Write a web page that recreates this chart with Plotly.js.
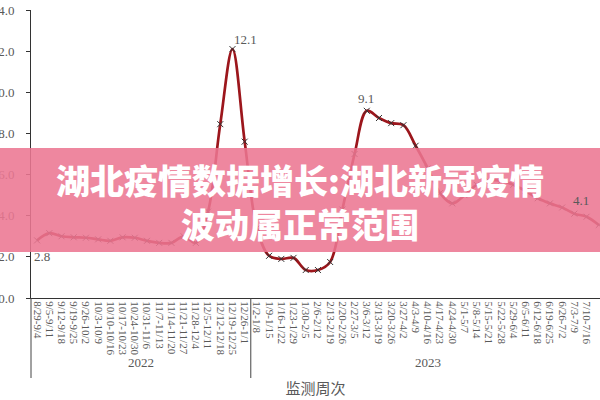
<!DOCTYPE html>
<html>
<head>
<meta charset="utf-8">
<script src="https://cdn.plot.ly/plotly-3.0.1.min.js"></script>
<style>
  html, body { margin: 0; padding: 0; background: #fff; }
  #chart { width: 600px; height: 400px; }
</style>
</head>
<body>
<div id="chart"></div>
<script>
// weekly categories, grouped by year
var weeks2022 = ["8/29-9/4", "9/5-9/11", "9/12-9/18", "9/19-9/25", "9/26-10/2",
    "10/3-10/9", "10/10-10/16", "10/17-10/23", "10/24-10/30", "10/31-11/6",
    "11/7-11/13", "11/14-11/20", "11/21-11/27", "11/28-12/4", "12/5-12/11",
    "12/12-12/18", "12/19-12/25", "12/26-1/1"];
var weeks2023 = ["1/2-1/8", "1/9-1/15", "1/16-1/22", "1/23-1/29", "1/30-2/5",
    "2/6-2/12", "2/13-2/19", "2/20-2/26", "2/27-3/5", "3/6-3/12", "3/13-3/19",
    "3/20-3/26", "3/27-4/2", "4/3-4/9", "4/10-4/16", "4/17-4/23", "4/24-4/30",
    "5/1-5/7", "5/8-5/14", "5/15-5/21", "5/22-5/28", "5/29-6/4", "6/5-6/11",
    "6/12-6/18", "6/19-6/25", "6/26-7/2", "7/3-7/9", "7/10-7/16", "7/17-7/23"];
var years = ["2022", "2023"];

// values (%)
var values2022 = [2.8, 3.15, 3.0, 2.95, 2.93, 2.85, 2.78, 2.95, 2.93, 2.78,
    2.68, 2.68, 3.0, 2.68, 4.2, 8.45, 12.1, 7.6];
var values2023 = [3.4, 2.05, 1.9, 1.95, 1.36, 1.36, 1.75, 4.3, 7.0, 9.1,
    8.75, 8.5, 8.4, 7.4, 6.3, 5.1, 4.6, 5.0, 5.5, 5.7, 5.7, 5.5, 5.2, 4.85,
    4.6, 4.4, 4.1, 3.95, 3.55];

// which points carry a value label
var labelled = [0, 16, 27, 44];

var yTicks = [0, 2, 4, 6, 8, 10, 12, 14];

var bannerLines = ["湖北疫情数据增长:湖北新冠疫情", "波动属正常范围"];
var axisTitle = "监测周次";

var weeks = weeks2022.concat(weeks2023);
var values = values2022.concat(values2023);
var idx = weeks.map(function(w, i) { return i; });

// label offsets from their point, in px
var labelShift = [[5, -16], [13, 10], [-1, 12], [7, 13]];

// plot box in pixels
var L = 31, T = 10, PW = 569, PH = 288;
function px2x(px) { return (px - L) / PW; }
function px2y(py) { return (T + PH - py) / PH; }

var grey = "#595959";
var serif = "Liberation Serif, Times New Roman, serif";
var cjk = "Noto Sans CJK SC, sans-serif";

var trace = {
    x: idx,
    y: values,
    type: "scatter",
    mode: "lines+markers",
    line: { color: "#9c161c", width: 2.7, shape: "spline", smoothing: 1 },
    marker: { symbol: "x-thin", size: 6, color: "#333", line: { color: "#333", width: 1 } },
    hoverinfo: "x+y"
};

var n22 = weeks2022.length;
var groups = [
    { label: years[0], from: 0, to: n22 - 1 },
    { label: years[1], from: n22, to: weeks.length - 1 }
];

var annotations = groups.map(function(g) {
    return {
        xref: "x", yref: "paper",
        x: (g.from + g.to) / 2, y: px2y(372),
        text: g.label, showarrow: false,
        font: { family: serif, size: 13, color: grey }
    };
});
labelled.forEach(function(i, k) {
    annotations.push({
        xref: "x", yref: "y",
        x: i, y: values[i],
        xshift: labelShift[k][0], yshift: labelShift[k][1],
        text: values[i].toFixed(1), showarrow: false,
        font: { family: serif, size: 13, color: grey }
    });
});
annotations.push({
    xref: "paper", yref: "paper",
    x: px2x(300), y: px2y(201),
    xanchor: "center", yanchor: "middle",
    text: bannerLines.join("<br>"), showarrow: false,
    font: { family: cjk, size: 34, color: "#ffffff", weight: 900 }
});

var shapes = [
    // group dividers under the axis
    { type: "line", xref: "paper", yref: "paper", x0: 0, x1: 0,
      y0: 0, y1: px2y(378), line: { color: "#444", width: 1 } },
    { type: "line", xref: "x", yref: "paper", x0: n22 - 0.5, x1: n22 - 0.5,
      y0: 0, y1: px2y(378), line: { color: "#444", width: 1 } },
    // pink banner
    { type: "rect", xref: "paper", yref: "paper", layer: "above",
      x0: px2x(0), x1: px2x(600), y0: px2y(252), y1: px2y(148),
      fillcolor: "rgba(236,118,146,0.88)", line: { width: 0 } }
];

var layout = {
    width: 600,
    height: 400,
    margin: { l: L, r: 600 - L - PW, t: T, b: 400 - T - PH },
    paper_bgcolor: "#fff",
    plot_bgcolor: "#fff",
    showlegend: false,
    xaxis: {
        range: [-0.5, 46.1],
        tickmode: "array",
        tickvals: idx,
        ticktext: weeks,
        tickangle: 90,
        tickfont: { family: serif, size: 11, color: grey },
        showgrid: false,
        zeroline: false,
        showline: true,
        linecolor: "#333",
        linewidth: 1,
        ticks: "",
        title: { text: axisTitle, font: { family: cjk, size: 15, color: grey }, standoff: 29 }
    },
    yaxis: {
        range: [0, 14],
        tickmode: "array",
        tickvals: yTicks,
        tickformat: ".1f",
        tickfont: { family: serif, size: 13, color: grey },
        ticks: "outside",
        ticklen: 4,
        tickcolor: "#333",
        ticklabelstandoff: 9,
        showgrid: false,
        zeroline: false,
        showline: true,
        linecolor: "#333",
        linewidth: 1
    },
    shapes: shapes,
    annotations: annotations
};

Plotly.newPlot("chart", [trace], layout, { displayModeBar: false, staticPlot: true });
</script>
</body>
</html>
